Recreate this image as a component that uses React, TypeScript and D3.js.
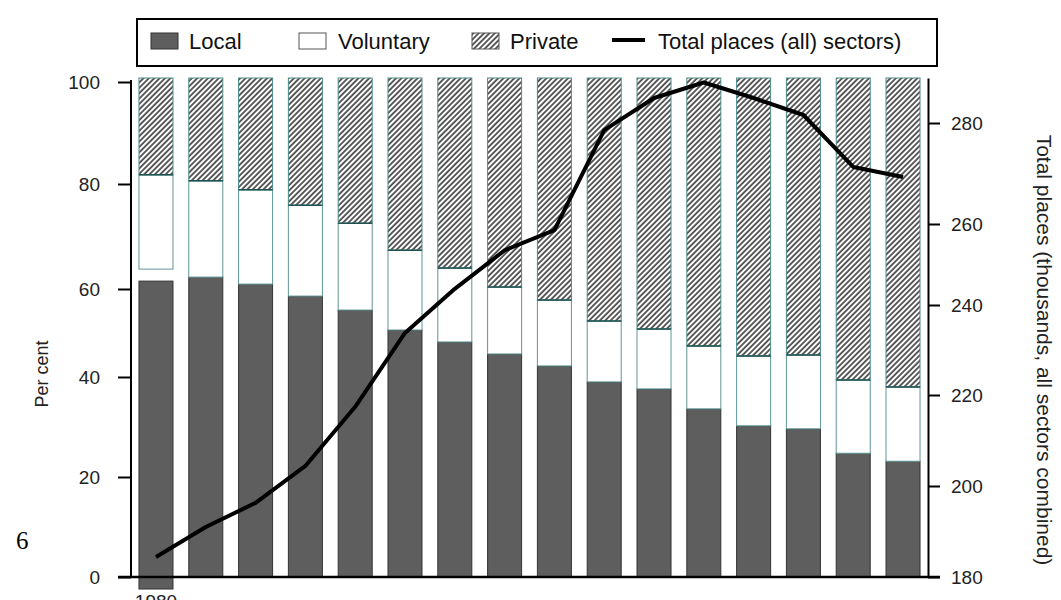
import { useEffect, useRef } from 'react';
import * as d3 from 'd3';

const years = ['1980', '1981', '1982', '1983', '1984', '1985', '1986', '1987', '1988', '1989', '1990', '1991', '1992', '1993', '1994', '1995'];
const localPct = [61.7, 60.1, 58.7, 56.3, 53.5, 49.5, 47.1, 44.7, 42.3, 39.1, 37.7, 33.7, 30.3, 29.7, 24.8, 23.2];
const voluntaryPct = [18.9, 19.3, 18.9, 18.2, 17.4, 16.0, 14.8, 13.4, 13.2, 12.2, 12.0, 12.6, 14.0, 14.8, 14.7, 14.9];
const privatePct = [19.4, 20.6, 22.4, 25.5, 29.1, 34.5, 38.1, 41.9, 44.5, 48.7, 50.3, 53.7, 55.7, 55.5, 60.5, 61.9];
const totalPlaces = [184.4, 191.0, 196.3, 204.4, 217.4, 233.8, 244.0, 253.5, 258.5, 278.6, 285.0, 288.1, 285.0, 281.6, 271.3, 269.3];

const pctTicks = [0, 20, 40, 60, 80, 100];
const totalTicks = [180, 200, 220, 240, 260, 280];
// the original axis ticks are not evenly spaced, so both axes are piecewise
const pctTickPx = [577, 477, 377, 289, 184, 82];
const totalTickPx = [577, 486, 395, 305, 224, 123, 78];

const W = 1061;
const H = 600;
const sans = "'Liberation Sans', Arial, sans-serif";

export default function App() {
  const svgRef = useRef<SVGSVGElement>(null);

  useEffect(() => {
    if (!svgRef.current) return;
    const svg = d3.select(svgRef.current);
    svg.selectAll('*').remove();

    const left = 131;
    const right = 928;
    const base = 577;
    const top = 78;

    const x = d3.scaleBand<string>().domain(years).range([left, right]).paddingInner(0.317).paddingOuter(0.16);
    const yPct = d3.scaleLinear().domain([0, 100]).range([base, top]);
    const yPctAxis = d3.scaleLinear().domain(pctTicks).range(pctTickPx);
    const yTotal = d3.scaleLinear().domain([...totalTicks, 289]).range(totalTickPx);

    // hatch pattern for private sector
    const defs = svg.append('defs');
    const pat = defs.append('pattern')
      .attr('id', 'hatch')
      .attr('patternUnits', 'userSpaceOnUse')
      .attr('width', 3.8)
      .attr('height', 3.8)
      .attr('patternTransform', 'rotate(45)');
    pat.append('rect').attr('width', 3.8).attr('height', 3.8).attr('fill', '#fff');
    pat.append('line')
      .attr('x1', 1).attr('y1', 0).attr('x2', 1).attr('y2', 3.8)
      .attr('stroke', '#1a1a1a').attr('stroke-width', 1.4);

    const rows = years.map((yr, i) => ({
      year: yr,
      local: localPct[i],
      voluntary: voluntaryPct[i],
      private: privatePct[i],
    }));
    const stack = d3.stack<any>().keys(['local', 'voluntary', 'private'])(rows);

    const styles: Record<string, { fill: string; stroke: string }> = {
      local: { fill: '#5e5e5e', stroke: '#333' },
      voluntary: { fill: '#fff', stroke: '#5f9696' },
      private: { fill: 'url(#hatch)', stroke: '#4d8a88' },
    };

    const bars = svg.append('g');
    stack.forEach(layer => {
      const st = styles[layer.key];
      bars.append('g')
        .selectAll('rect')
        .data(layer)
        .join('rect')
        .attr('x', d => x(d.data.year)!)
        // the 1980 local bar sits a little low in the source, below the axis
        .attr('y', (d, i) => yPct(d[1]) + (layer.key === 'local' && i === 0 ? 12 : 0))
        .attr('width', x.bandwidth())
        .attr('height', d => yPct(d[0]) - yPct(d[1]))
        .attr('fill', st.fill)
        .attr('stroke', st.stroke)
        .attr('stroke-width', 1);
    });

    // darker teal edge on top of voluntary segment
    bars.append('g')
      .selectAll('line')
      .data(stack[1])
      .join('line')
      .attr('x1', d => x(d.data.year)!)
      .attr('x2', d => x(d.data.year)! + x.bandwidth())
      .attr('y1', d => yPct(d[1]))
      .attr('y2', d => yPct(d[1]))
      .attr('stroke', '#1f5252')
      .attr('stroke-width', 1.5);

    // total line
    const line = d3.line<number>()
      .x((d, i) => x(years[i])! + x.bandwidth() / 2)
      .y(d => yTotal(d));
    svg.append('path')
      .datum(totalPlaces)
      .attr('d', line)
      .attr('fill', 'none')
      .attr('stroke', '#000')
      .attr('stroke-width', 4)
      .attr('stroke-linejoin', 'round');

    // left axis
    const gl = svg.append('g')
      .attr('transform', `translate(${left},0)`)
      .call(d3.axisLeft(yPctAxis).tickValues(pctTicks).tickSize(13).tickSizeOuter(0).tickPadding(18));
    gl.select('.domain').attr('stroke-width', 2).attr('d', `M0,${base}V${top + 2}`);
    gl.selectAll('.tick line').attr('stroke-width', 2);
    gl.selectAll('.tick text').attr('font-family', sans).attr('font-size', 19).attr('fill', '#222');

    // right axis
    const gr = svg.append('g')
      .attr('transform', `translate(${right},0)`)
      .call(d3.axisRight(yTotal).tickValues(totalTicks).tickSize(12).tickSizeOuter(0).tickPadding(11));
    gr.select('.domain').attr('stroke-width', 2);
    gr.selectAll('.tick line').attr('stroke-width', 2);
    gr.selectAll('.tick text').attr('font-family', sans).attr('font-size', 19).attr('fill', '#222');

    // bottom axis
    const gb = svg.append('g')
      .attr('transform', `translate(0,${base})`)
      .call(d3.axisBottom(x).tickValues(['1980']).tickSize(0).tickPadding(18));
    gb.select('.domain').attr('stroke-width', 2.5).attr('d', `M${left - 13},0H${right + 12}`);
    gb.selectAll('.tick text').attr('font-family', sans).attr('font-size', 19).attr('fill', '#222');

    // axis titles
    svg.append('text')
      .attr('transform', `translate(42,374) rotate(-90)`)
      .attr('text-anchor', 'middle')
      .attr('dominant-baseline', 'central')
      .attr('font-family', sans)
      .attr('font-size', 18)
      .attr('fill', '#222')
      .text('Per cent');
    svg.append('text')
      .attr('transform', `translate(1044,350) rotate(90)`)
      .attr('text-anchor', 'middle')
      .attr('dominant-baseline', 'central')
      .attr('font-family', sans)
      .attr('font-size', 21)
      .attr('fill', '#222')
      .text('Total places (thousands, all sectors combined)');

    // stray page number
    svg.append('text')
      .attr('x', 16)
      .attr('y', 549)
      .attr('font-family', "'Liberation Serif', serif")
      .attr('font-size', 25)
      .text('6');

    // legend
    const lg = svg.append('g');
    lg.append('rect')
      .attr('x', 137).attr('y', 19).attr('width', 800).attr('height', 47)
      .attr('fill', '#fff').attr('stroke', '#000').attr('stroke-width', 2);
    const legendItems = [
      { label: 'Local', key: 'local', sx: 151, tx: 189 },
      { label: 'Voluntary', key: 'voluntary', sx: 299, tx: 338 },
      { label: 'Private', key: 'private', sx: 472, tx: 510 },
    ];
    legendItems.forEach(it => {
      lg.append('rect')
        .attr('x', it.sx).attr('y', 33).attr('width', 27).attr('height', 16)
        .attr('fill', styles[it.key].fill)
        .attr('stroke', it.key === 'local' ? '#333' : '#555')
        .attr('stroke-width', 1);
      lg.append('text')
        .attr('x', it.tx).attr('y', 41)
        .attr('dominant-baseline', 'central')
        .attr('font-family', sans).attr('font-size', 22).attr('fill', '#111')
        .text(it.label);
    });
    lg.append('line')
      .attr('x1', 612).attr('x2', 645).attr('y1', 40).attr('y2', 40)
      .attr('stroke', '#000').attr('stroke-width', 4);
    lg.append('text')
      .attr('x', 658).attr('y', 41)
      .attr('dominant-baseline', 'central')
      .attr('font-family', sans).attr('font-size', 22).attr('fill', '#111')
      .text('Total places (all) sectors)');
  }, []);

  return (
    <svg
      ref={svgRef}
      width={W}
      height={H}
      style={{ position: 'absolute', left: 0, top: 0, background: '#fff' }}
    />
  );
}
